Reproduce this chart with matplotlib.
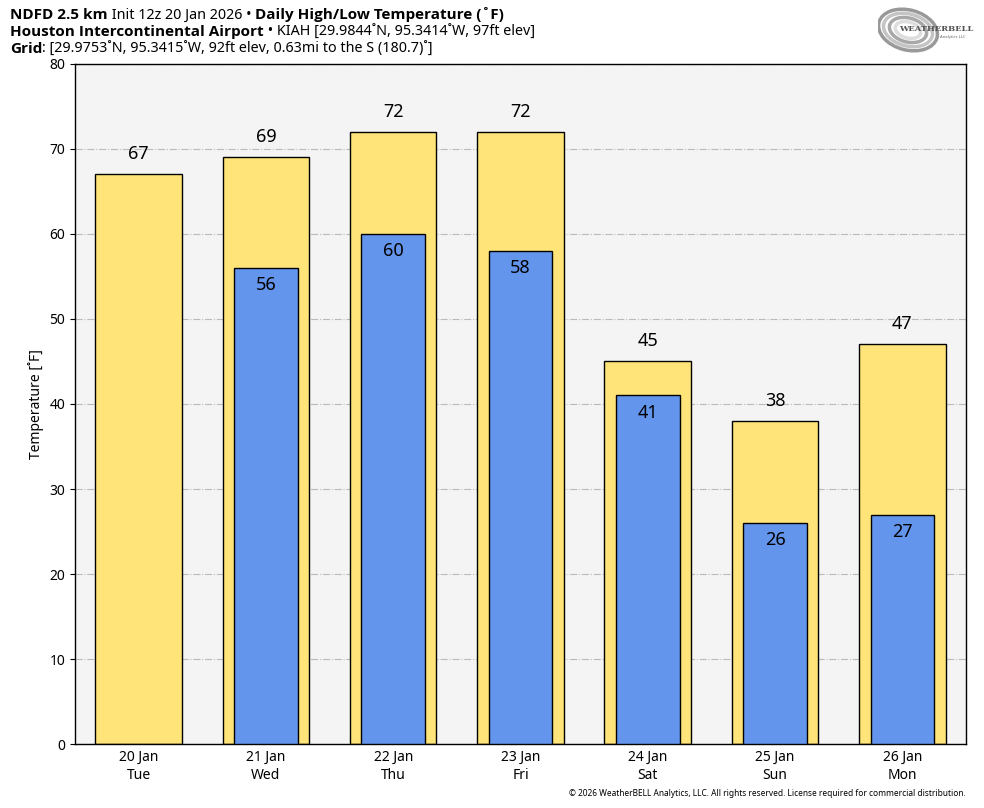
import matplotlib
matplotlib.use("Agg")
import matplotlib.pyplot as plt
from matplotlib.patches import Ellipse

plt.rcParams['font.family'] = ['Noto Sans', 'DejaVu Sans']

# data
days = ["20 Jan\nTue", "21 Jan\nWed", "22 Jan\nThu", "23 Jan\nFri",
        "24 Jan\nSat", "25 Jan\nSun", "26 Jan\nMon"]
highs = [67, 69, 72, 72, 45, 38, 47]
lows = [None, 56, 60, 58, 41, 26, 27]

HIGH_COLOR = "#ffe47a"
LOW_COLOR = "#6495ed"

fig = plt.figure(figsize=(9.84, 8.08), dpi=100)
ax = fig.add_axes([0.0762, 0.0792, 0.9055, 0.8416])
ax.set_facecolor("#f4f4f4")

x = list(range(len(days)))
ax.bar(x, highs, width=0.68, color=HIGH_COLOR, edgecolor="black", linewidth=1, zorder=2)
for i, h in enumerate(highs):
    ax.text(i, h + 1.3, str(h), ha="center", va="bottom", fontsize=13, zorder=4)

low_x = [i for i, v in enumerate(lows) if v is not None]
low_v = [v for v in lows if v is not None]
ax.bar(low_x, low_v, width=0.5, color=LOW_COLOR, edgecolor="black", linewidth=1, zorder=3)
for i, v in zip(low_x, low_v):
    ax.text(i, v - 0.95, str(v), ha="center", va="top", fontsize=13, zorder=4)

ax.set_xlim(-0.5, len(days) - 0.5)
ax.set_ylim(0, 80)
ax.set_xticks(x)
ax.set_xticklabels(days, fontsize=10, linespacing=1.3)
ax.set_yticks(range(0, 81, 10))
ax.tick_params(axis="y", labelsize=10)
ax.tick_params(axis="x", length=0, pad=4)
ax.set_ylabel("Temperature [\u02daF]", fontsize=10)
ax.yaxis.grid(True, color="#bbbbbb", linestyle="-.", linewidth=0.8, zorder=0)
ax.set_axisbelow(True)
for s in ax.spines.values():
    s.set_linewidth(1)

# header lines with mixed bold/regular pieces
header = [
    [("NDFD 2.5 km", "bold"), (" Init 12z 20 Jan 2026 \u2022 ", "normal"),
     ("Daily High/Low Temperature (\u02daF)", "bold")],
    [("Houston Intercontinental Airport", "bold"),
     (" \u2022 KIAH [29.9844\u02daN, 95.3414\u02daW, 97ft elev]", "normal")],
    [("Grid", "bold"),
     (": [29.9753\u02daN, 95.3415\u02daW, 92ft elev, 0.63mi to the S (180.7)\u02da]", "normal")],
]
fig.canvas.draw()
renderer = fig.canvas.get_renderer()
y0 = 1 - 15 / 808
for row in header:
    xpos = 10 / 984
    for txt, w in row:
        if w == "bold":
            t = fig.text(xpos, y0, txt, fontsize=11, fontweight="bold",
                         family=['Open Sans', 'DejaVu Sans'], ha="left", va="center")
        else:
            t = fig.text(xpos, y0, txt, fontsize=10.3, ha="left", va="center")
        bb = t.get_window_extent(renderer=renderer)
        xpos += bb.width / fig.bbox.width
    y0 -= 17 / 808

# logo stand-in
lax = fig.add_axes([878 / 984, 1 - 56 / 808, 90 / 984, 50 / 808])
lax.set_xlim(0, 90)
lax.set_ylim(0, 50)
lax.axis("off")
for wdt, hgt, c in [(60, 40, "#999999"), (50, 32, "#c4c4c4"), (38, 24, "#a8a8a8"), (26, 16, "#dddddd")]:
    lax.add_patch(Ellipse((30, 26), wdt, hgt, angle=-15, fill=False, edgecolor=c, linewidth=2.5))
lax.text(21, 27, "WEATHERBELL", fontsize=6, color="#555555", fontweight="bold", va="center",
         family="DejaVu Serif")
lax.text(88, 19, "Analytics LLC", fontsize=3, color="#666666", ha="right", va="center")

fig.text(966 / 984, 1 - 793 / 808,
         "\u00a9 2026 WeatherBELL Analytics, LLC. All rights reserved. License required for commercial distribution.",
         fontsize=6, ha="right", va="center")

fig.savefig("out.png", dpi=100)
